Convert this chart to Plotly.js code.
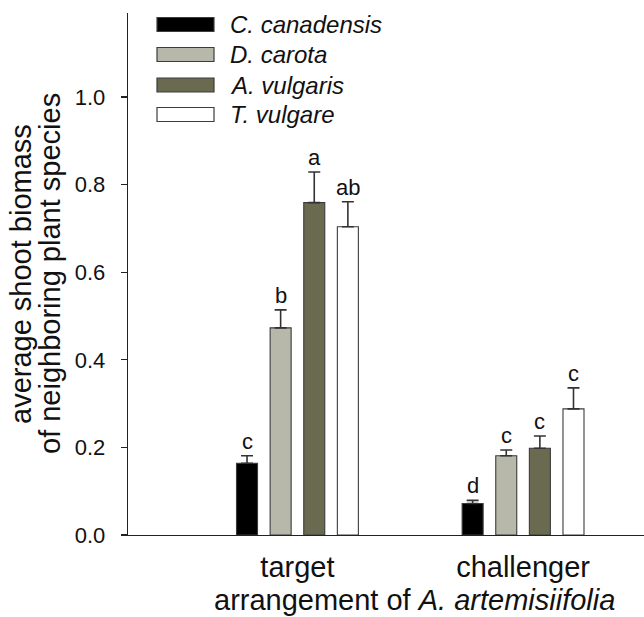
<!DOCTYPE html>
<html>
<head>
<meta charset="utf-8">
<script src="https://cdn.plot.ly/plotly-3.0.1.min.js"></script>
<style>
  html, body { margin: 0; padding: 0; background: #ffffff; }
  #chart { width: 644px; height: 617px; }
</style>
</head>
<body>
<div id="chart"></div>
<script>
// ---- data ----
const categories = ['target', 'challenger'];
const speciesNames = ['C. canadensis', 'D. carota', 'A. vulgaris', 'T. vulgare'];

const meanCcanadensis = [0.164, 0.072];
const meanDcarota     = [0.473, 0.181];
const meanAvulgaris   = [0.759, 0.198];
const meanTvulgare    = [0.704, 0.288];

const errCcanadensis = [0.017, 0.007];
const errDcarota     = [0.041, 0.013];
const errAvulgaris   = [0.070, 0.028];
const errTvulgare    = [0.057, 0.048];

const lettersCcanadensis = ['c', 'd'];
const lettersDcarota     = ['b', 'c'];
const lettersAvulgaris   = ['a', 'c'];
const lettersTvulgare    = ['ab', 'c'];

const yTickVals = [0.0, 0.2, 0.4, 0.6, 0.8, 1.0];
const yTickText = ['0.0', '0.2', '0.4', '0.6', '0.8', '1.0'];

const yTitleLines = ['average shoot biomass', 'of neighboring plant species'];
const xTitleText = 'arrangement of <i>A. artemisiifolia</i>';

// ---- styles ----
const fills = ['#000000', '#b7b8aa', '#6a6a51', '#ffffff'];
const FONT = 'Liberation Sans, Arial, sans-serif';
const means = [meanCcanadensis, meanDcarota, meanAvulgaris, meanTvulgare];
const errs = [errCcanadensis, errDcarota, errAvulgaris, errTvulgare];
const letters = [lettersCcanadensis, lettersDcarota, lettersAvulgaris, lettersTvulgare];

const bargap = 0.404;
const bargroupgap = 0.375;
const nS = speciesNames.length;
const slot = (1 - bargap) / nS;

const traces = speciesNames.map((name, i) => ({
  type: 'bar',
  name: name,
  x: categories,
  y: means[i],
  marker: { color: fills[i], line: { color: '#3c3c3c', width: 1.1 } },
  error_y: { type: 'data', symmetric: false, array: errs[i], arrayminus: errs[i].map(() => 0),
             color: '#333333', thickness: 1.6, width: 6 },
  showlegend: false,
  hoverinfo: 'skip'
}));

const annotations = [];
// significance letters
speciesNames.forEach((name, i) => {
  categories.forEach((c, j) => {
    annotations.push({
      x: j + (i - (nS - 1) / 2) * slot,
      y: means[i][j] + errs[i][j],
      xref: 'x', yref: 'y',
      text: letters[i][j],
      showarrow: false,
      yanchor: 'bottom',
      yshift: 0,
      font: { family: FONT, size: 22, color: '#111111' }
    });
  });
});

// custom legend (wide swatches)
const shapes = [];
const plotL = 128, plotW = 516, plotB = 535, plotH = 522;
const px2x = px => (px - plotL) / plotW;
const py2y = py => (plotB - py) / plotH;
const rowY = [24.5, 54.5, 85, 114.5];
speciesNames.forEach((name, i) => {
  shapes.push({
    type: 'rect', xref: 'paper', yref: 'paper',
    x0: px2x(157), x1: px2x(214), y0: py2y(rowY[i] + 7), y1: py2y(rowY[i] - 7),
    fillcolor: fills[i], line: { color: '#3c3c3c', width: 1.2 }
  });
  annotations.push({
    xref: 'paper', yref: 'paper', x: px2x(228), y: py2y(rowY[i]),
    xanchor: 'left', yanchor: 'middle', showarrow: false,
    text: '<i>' + name + '</i>',
    font: { family: FONT, size: 24, color: '#111111' }
  });
});

// x-axis title (offset like the original)
annotations.push({
  xref: 'paper', yref: 'paper', x: px2x(414), y: py2y(600),
  xanchor: 'center', yanchor: 'middle', showarrow: false,
  text: xTitleText,
  font: { family: FONT, size: 29, color: '#111111' }
});

// y-axis title, two tightly spaced lines
const yTitleX = [21, 50];
yTitleLines.forEach((line, k) => {
  annotations.push({
    xref: 'paper', yref: 'paper', x: px2x(yTitleX[k]), y: 0.5,
    xanchor: 'center', yanchor: 'middle', showarrow: false, textangle: -90,
    text: line,
    font: { family: FONT, size: 29, color: '#111111' }
  });
});

const layout = {
  width: 644, height: 617,
  margin: { l: 128, r: 0, t: 13, b: 82, pad: 0 },
  paper_bgcolor: '#ffffff', plot_bgcolor: '#ffffff',
  barmode: 'group', bargap: bargap, bargroupgap: bargroupgap,
  font: { family: FONT, color: '#111111' },
  xaxis: {
    type: 'category', range: [-0.751, 1.536],
    showline: true, linecolor: '#222222', linewidth: 1.3,
    ticks: '', showgrid: false, zeroline: false,
    tickfont: { family: FONT, size: 29, color: '#111111' },
    ticklabelstandoff: 6,
    fixedrange: true
  },
  yaxis: {
    range: [0, 1.192],
    tickvals: yTickVals, ticktext: yTickText,
    showline: true, linecolor: '#222222', linewidth: 1.3,
    ticks: 'outside', ticklen: 6, tickwidth: 1.3, tickcolor: '#222222',
    showgrid: false, zeroline: false,
    tickfont: { family: FONT, size: 22, color: '#111111' },
    ticklabelstandoff: 11,
    fixedrange: true
  },
  shapes: shapes,
  annotations: annotations,
  showlegend: false
};

Plotly.newPlot('chart', traces, layout, { displayModeBar: false, staticPlot: true });
</script>
</body>
</html>
